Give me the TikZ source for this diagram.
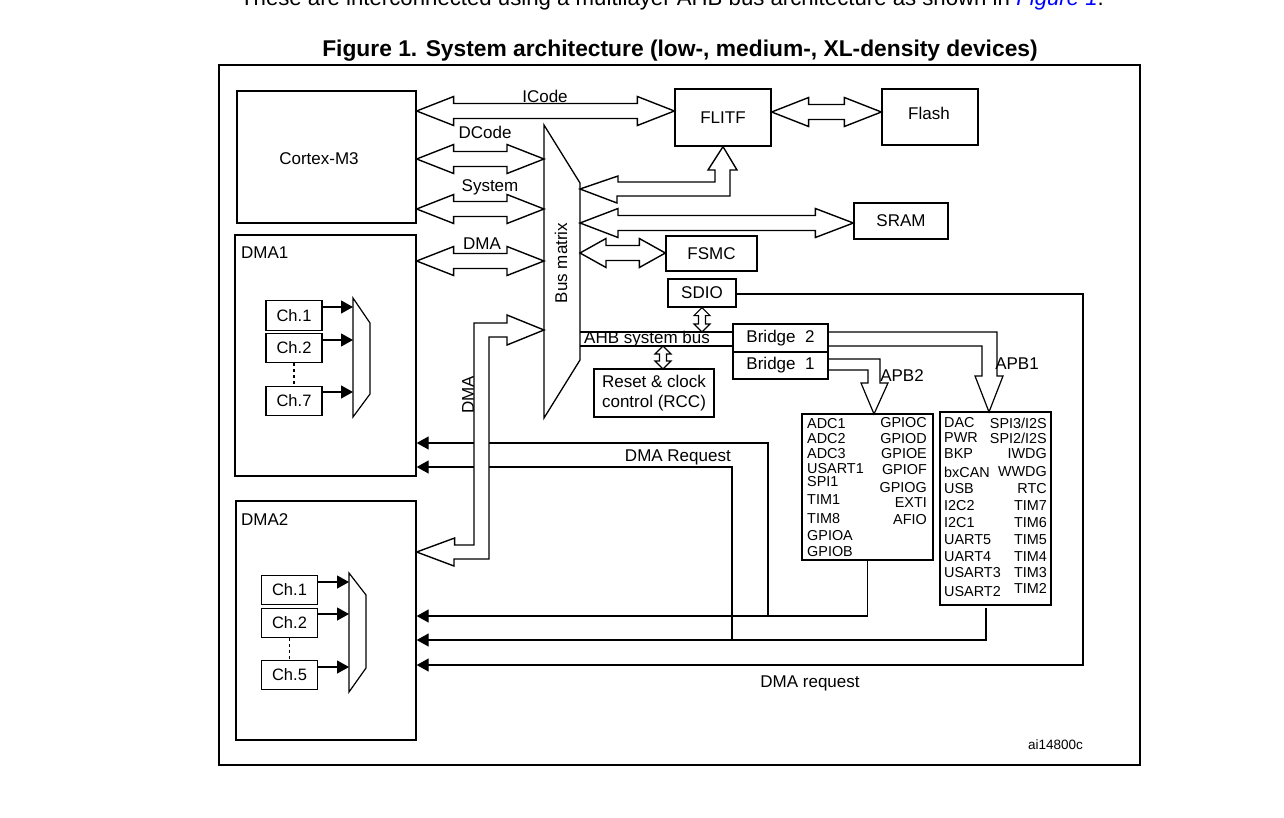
\documentclass[tikz,border=0pt]{standalone}
\usepackage{fontspec}
\setmainfont{Liberation Sans}
\usetikzlibrary{calc,arrows.meta}

\begin{document}
\begin{tikzpicture}[x=1pt, y=-1pt, line join=miter, >={Triangle[length=12pt,width=13pt]},
    box/.style={draw, line width=1.3pt, inner sep=0pt, font=\fontsize{17}{20}\selectfont},
    txt/.style={inner sep=0pt, font=\fontsize{17}{20}\selectfont},
    per/.style={inner sep=0pt, font=\fontsize{14.4}{16}\selectfont},
    chan/.style={draw, line width=1.2pt, minimum width=56, minimum height=29.5, inner sep=0pt, font=\fontsize{16.5}{18}\selectfont},
    fat/.style={draw, fill=white, line width=1.4pt},
    wire/.style={line width=1.2pt}]
        % Dikke pijlen: linkerpunt, rechterpunt, lengte van de kop
        \def\hdbl#1#2#3{\draw[fat] (#1) -- ++(#3,-14.5) -- ++(0,7) -- ($(#2)+(-#3,-7.5)$) -- ++(0,-7) -- (#2) -- ++(-#3,14.5) -- ++(0,-7) -- ($(#1)+(#3,7.5)$) -- ++(0,7) -- cycle;}
        \def\vdbl#1#2{\draw[fat, line width=1.1pt] (#1) -- ++(-8,8) -- ++(4.5,0) -- ($(#2)+(-3.5,-8)$) -- ++(-4.5,0) -- (#2) -- ++(8,-8) -- ++(-4.5,0) -- ($(#1)+(3.5,8)$) -- ++(4.5,0) -- cycle;}

        \useasboundingbox (0,0) rectangle (1284,817);

        % Tekst boven de figuur en titel
        \begin{scope}
          \clip (0,0) rectangle (1284,817);
          \node[anchor=base, inner sep=0pt, font=\fontsize{22.2}{24}\selectfont] (intro) at (672,5) {These are interconnected using a multilayer AHB bus architecture as shown in \textcolor{blue}{\itshape Figure 1}.};
        \end{scope}
        \node[anchor=base, inner sep=0pt, font=\bfseries\fontsize{22.8}{26}\selectfont] (title) at (680,56) {Figure 1. System architecture (low-, medium-, XL-density devices)};
        \draw[line width=1.3pt] (219,65) rectangle (1140,765);

        % Blokken
        \node[box, minimum width=179, minimum height=132] (cortex) at (326.5,157) {};
        \node[txt] (cortexlbl) at (319,159) {Cortex-M3};
        \node[box, minimum width=181, minimum height=241] (dmaone) at (325.5,355.5) {};
        \node[txt, anchor=west] (dmaonelbl) at (241,253) {DMA1};
        \node[box, minimum width=180, minimum height=239] (dmatwo) at (326,620.5) {};
        \node[txt, anchor=west] (dmatwolbl) at (241,520) {DMA2};
        \node[box, minimum width=96, minimum height=57] (flitf) at (723,117.5) {FLITF};
        \node[box, minimum width=96, minimum height=56] (flash) at (930,117) {};
        \node[txt] (flashlbl) at (929,113) {Flash};
        \node[box, minimum width=94, minimum height=36] (sram) at (901,221) {SRAM};
        \node[box, minimum width=91, minimum height=35] (fsmc) at (711.5,253.5) {FSMC};
        \node[box, minimum width=68, minimum height=28] (sdio) at (702,293) {SDIO};
        \node[box, minimum width=120, minimum height=48, align=center] (rcc) at (654,393) {Reset \& clock\\control (RCC)};
        \node[box, minimum width=95, minimum height=28] (brtwo) at (780.5,338) {Bridge\ \ 2};
        \node[box, minimum width=95, minimum height=27] (brone) at (780.5,365.5) {Bridge\ \ 1};
        \node[box, minimum width=131, minimum height=146] (ptwo) at (867.5,487) {};
        \node[box, minimum width=111, minimum height=193] (pone) at (995.5,508.5) {};

        % Kanalen en multiplexers
        \foreach \n/\y in {1/315.5, 2/348, 7/401}
          \node[chan] (ca\n) at (294,\y) {Ch.\n};
        \foreach \n/\y in {1/590, 2/623, 5/675}
          \node[chan] (cb\n) at (289.5,\y) {Ch.\n};
        \coordinate (muxa) at (353,298);
        \coordinate (muxb) at (349,573);
        \draw[wire] (muxa) -- (370,323) -- (370,394) -- (353,417) -- cycle;
        \draw[wire] (muxb) -- (366,595) -- (366,668) -- (349,692) -- cycle;
        \draw[wire, ->] (ca1.east |- 0,307) -- (muxa |- 0,307);
        \draw[wire, ->] (ca2.east |- 0,340) -- (muxa |- 0,340);
        \draw[wire, ->] (ca7.east |- 0,392) -- (muxa |- 0,392);
        \draw[wire, ->] (cb1.east |- 0,582) -- (muxb |- 0,582);
        \draw[wire, ->] (cb2.east |- 0,614) -- (muxb |- 0,614);
        \draw[wire, ->] (cb5.east |- 0,667) -- (muxb |- 0,667);
        \draw[wire, dash pattern=on 3pt off 3pt] (ca2.south) -- (ca7.north);
        \draw[wire, dash pattern=on 3pt off 3pt] (cb2.south) -- (cb5.north);

        % Bus matrix
        \coordinate (bml) at (544,125);
        \coordinate (bmr) at (580,183);
        \draw[line width=1.3pt] (bml) -- (bmr) -- (580,360) -- (544,418) -- cycle;
        \node[txt, rotate=90] (bmlbl) at (561,263) {Bus matrix};

        % AHB en APB
        \draw[wire] (bmr |- 0,332) -- (brtwo.west |- 0,332);
        \draw[wire] (bmr |- 0,346) -- (brtwo.west |- 0,346);
        \node[txt, anchor=west] (ahb) at (584,339) {AHB system bus};
        \draw[wire] (brtwo.east |- 0,332) -- (997,332) -- (997,376) -- (1003,376) -- (989,412) -- (975,376) -- (982,376) -- (982,346) -- (brtwo.east |- 0,346);
        \draw[wire] (brone.east |- 0,359) -- (880,359) -- (880,383) -- (888,383) -- (874,414) -- (861,383) -- (868,383) -- (868,370) -- (brone.east |- 0,370);
        \node[txt] (apbtwo) at (902,376) {APB2};
        \node[txt] (apbone) at (1017,364) {APB1};

        % Randapparatuur
        \foreach \t/\y [count=\i] in {ADC1/424, ADC2/439, ADC3/454, USART1/469, SPI1/482, TIM1/500, TIM8/519, GPIOA/536, GPIOB/552}
          \node[per, anchor=west] (ptwol\i) at (807,\y) {\t};
        \foreach \t/\y [count=\i] in {GPIOC/423, GPIOD/439, GPIOE/454, GPIOF/470, GPIOG/488, EXTI/503, AFIO/520}
          \node[per, anchor=east] (ptwor\i) at (927,\y) {\t};
        \foreach \t/\y [count=\i] in {DAC/423, PWR/438, BKP/454, bxCAN/472, USB/489, I2C2/506, I2C1/523, UART5/540, UART4/557, USART3/573, USART2/592}
          \node[per, anchor=west] (ponel\i) at (944,\y) {\t};
        \foreach \t/\y [count=\i] in {{SPI3/I2S}/423, {SPI2/I2S}/438, IWDG/454, WWDG/472, RTC/489, TIM7/506, TIM6/523, TIM5/540, TIM4/557, TIM3/573, TIM2/588}
          \node[per, anchor=east] (poner\i) at (1047,\y) {\t};

        % DMA requests
        \coordinate (rqa) at (768,616);
        \coordinate (rqb) at (732,640);
        \coordinate (pout) at (986,608);
        \coordinate (sdc) at (1083,294);
        \draw[wire, ->] (ptwo.south) |- (dmatwo.east |- 0,616);
        \draw[wire, ->] (rqa) |- (dmaone.east |- 0,443);
        \draw[wire, ->] (pout) |- (dmatwo.east |- 0,640);
        \draw[wire, ->] (rqb) |- (dmaone.east |- 0,467);
        \draw[wire, ->] (sdio.east |- sdc) -- (sdc) |- (dmatwo.east |- 0,665);
        \node[txt, anchor=base east] (dmareq) at (731,461) {DMA Request};
        \node[txt] (dmareqb) at (810,683) {DMA request};
        \node[anchor=east, inner sep=0pt, font=\fontsize{13.5}{15}\selectfont] (ref) at (1083,745) {ai14800c};

        % Dikke bus-pijlen
        \coordinate (icl) at (cortex.east |- 0,111);
        \coordinate (icr) at (flitf.west |- 0,111);
        \coordinate (dcl) at (cortex.east |- 0,159);
        \coordinate (dcr) at (bml |- 0,159);
        \coordinate (syl) at (cortex.east |- 0,209);
        \coordinate (syr) at (bml |- 0,209);
        \coordinate (dml) at (dmaone.east |- 0,261);
        \coordinate (dmr) at (bml |- 0,261);
        \coordinate (fll) at (flitf.east |- 0,112);
        \coordinate (flr) at (flash.west |- 0,112);
        \coordinate (srl) at (bmr |- 0,223);
        \coordinate (srr) at (sram.west |- 0,223);
        \coordinate (fsl) at (bmr |- 0,253);
        \coordinate (fsr) at (fsmc.west |- 0,253);
        \hdbl{icl}{icr}{37}
        \hdbl{dcl}{dcr}{37}
        \hdbl{syl}{syr}{37}
        \hdbl{dml}{dmr}{37}
        \hdbl{fll}{flr}{37}
        \hdbl{srl}{srr}{38}
        \hdbl{fsl}{fsr}{26}
        \node[txt] (icode) at (545,96) {ICode};
        \node[txt] (dcode) at (485,132) {DCode};
        \node[txt] (sysbus) at (490,187) {System};
        \node[txt] (dmabus) at (482,244) {DMA};

        \draw[fat] (bmr |- 0,189) -- ++(38,-13) -- ++(0,6) -- (715,182) -- (715,170) -- (708,170) -- (flitf.south) -- (737,170) -- (730,170) -- (730,196) -- (617,196) -- (617,203) -- cycle;
        \draw[fat] (dmatwo.east |- 0,552) -- ++(38,-14) -- ++(0,7) -- (474,545) -- (474,323) -- (507,323) -- (507,315) -- (bml |- 0,330) -- (507,345) -- (507,337) -- (489,337) -- (489,559) -- (454,559) -- (454,566) -- cycle;
        \node[txt, rotate=90] (dmalbl) at (468,395) {DMA};

        \coordinate (sdb) at (sdio.south |- 0,332);
        \coordinate (rct) at (663,346);
        \coordinate (rcb) at (663,369);
        \vdbl{sdio.south}{sdb}
        \vdbl{rct}{rcb}
\end{tikzpicture}
\end{document}
